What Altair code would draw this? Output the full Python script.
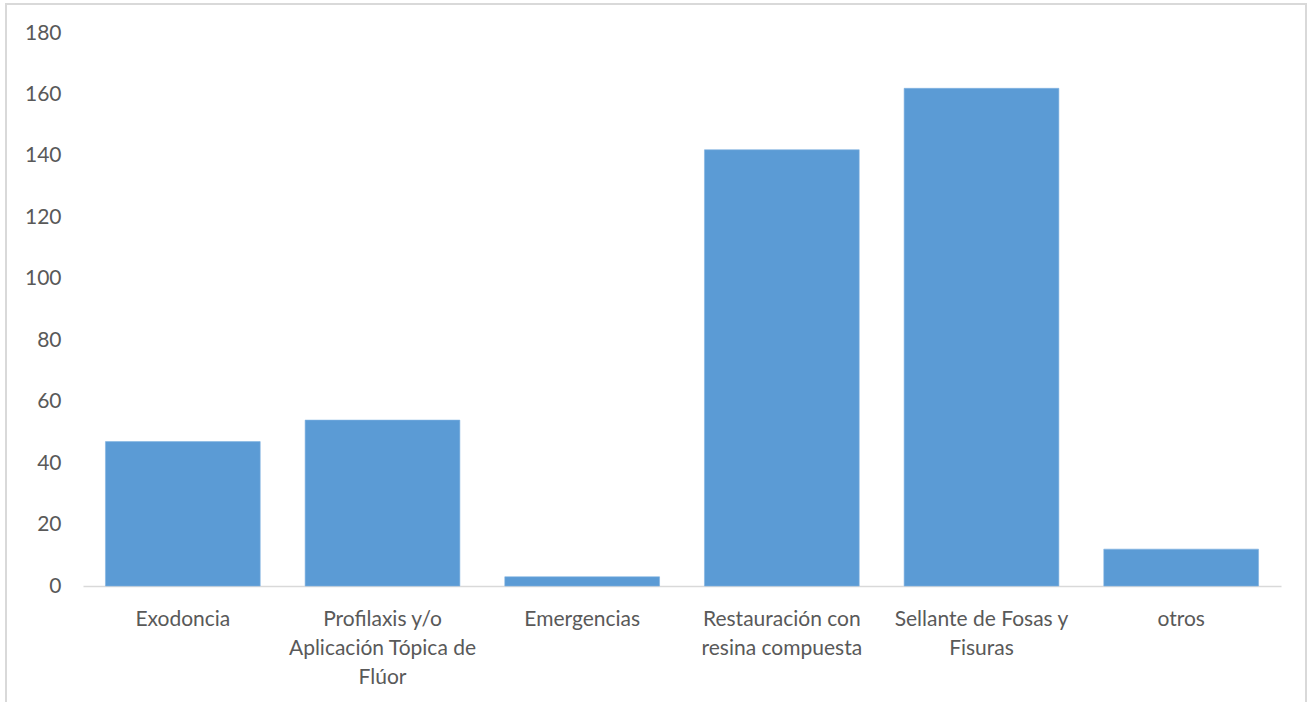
import altair as alt
import pandas as pd

# Procedimientos realizados y su frecuencia
categorias = [
    "Exodoncia",
    "Profilaxis y/o|Aplicación Tópica de|Flúor",
    "Emergencias",
    "Restauración con|resina compuesta",
    "Sellante de Fosas y|Fisuras",
    "otros",
]
valores = [47, 54, 3, 142, 162, 12]
ticks_y = [0, 20, 40, 60, 80, 100, 120, 140, 160, 180]

df = pd.DataFrame({"procedimiento": categorias, "cantidad": valores})

FONT = "Lato"
TEXT = "#595959"
GRID = "#D9D9D9"

barras = alt.Chart(df).mark_bar(color="#5B9BD5", stroke="#7FB2E0", strokeWidth=0.6).encode(
    x=alt.X(
        "procedimiento:N",
        sort=categorias,
        title=None,
        scale=alt.Scale(paddingInner=0.225, paddingOuter=0.1125),
        axis=alt.Axis(
            labelAngle=0,
            labelExpr="split(datum.label, '|')",
            labelFont=FONT,
            labelFontSize=21,
            labelColor=TEXT,
            labelLineHeight=29,
            labelPadding=22,
            labelBaseline="top",
            ticks=False,
            domainColor=GRID,
            domainWidth=1.5,
            grid=False,
            labelLimit=300,
        ),
    ),
    y=alt.Y(
        "cantidad:Q",
        title=None,
        scale=alt.Scale(domain=[0, 180], nice=False),
        axis=alt.Axis(
            values=ticks_y,
            labelFont=FONT,
            labelFontSize=21,
            labelColor=TEXT,
            labelPadding=22,
            ticks=False,
            domain=False,
            grid=False,
        ),
    ),
)

# Marco exterior del gráfico
marco = alt.Chart(df).mark_rect(filled=False, stroke=GRID, strokeWidth=2).encode(
    x=alt.value(-77), x2=alt.value(1223), y=alt.value(-29), y2=alt.value(700)
)

chart = (
    alt.layer(marco, barras)
    .properties(
        width=1198,
        height=553,
        autosize=alt.AutoSizeParams(type="none"),
        padding={"left": 83, "top": 33, "right": 31, "bottom": 116},
        background="white",
    )
    .configure_view(stroke=None)
)

chart.save("out.html", embed_options={"renderer": "svg", "actions": False})
